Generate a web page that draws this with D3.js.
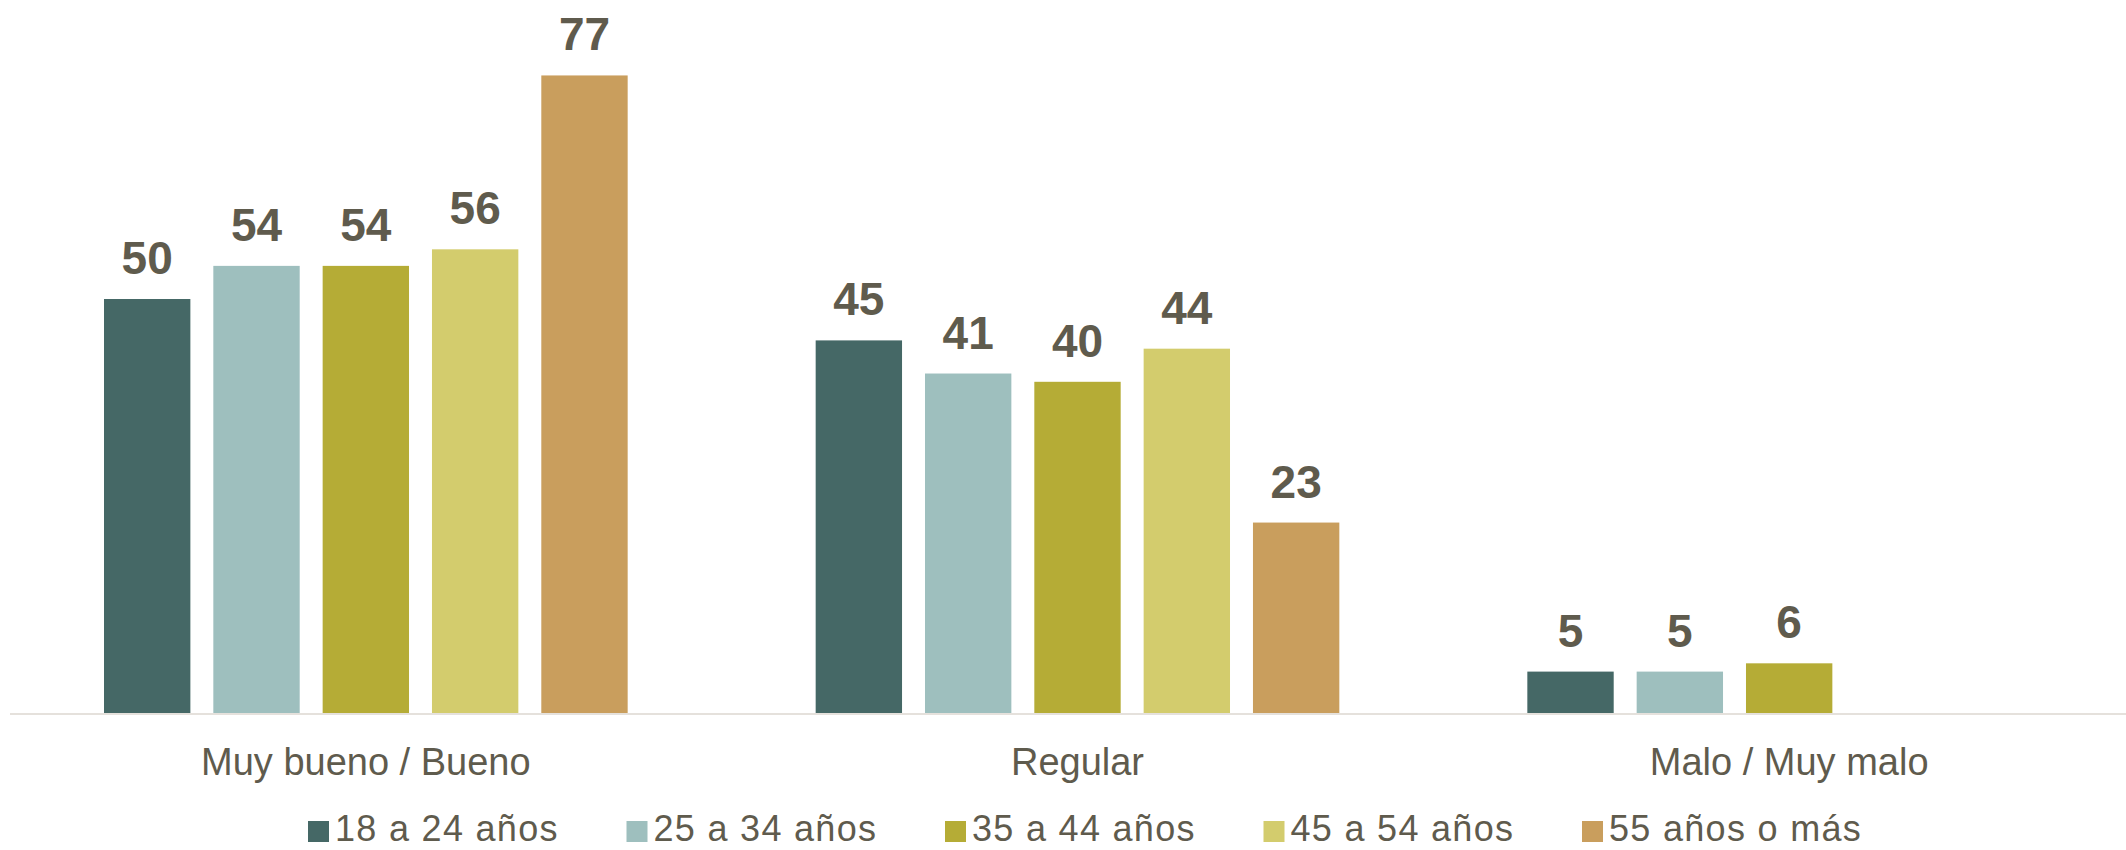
<!DOCTYPE html>
<html>
<head>
<meta charset="utf-8">
<script src="https://cdn.jsdelivr.net/npm/d3@7"></script>
<style>
  html, body { margin: 0; padding: 0; background: #ffffff; }
  svg { display: block; }
  text { font-family: "Liberation Sans", Arial, sans-serif; fill: #5f5b4d; }
</style>
</head>
<body>
<svg id="chart" width="2126" height="850"></svg>
<script>
// Valoración por grupo de edad (%)
const categories = ["Muy bueno / Bueno", "Regular", "Malo / Muy malo"];
const seriesNames = ["18 a 24 años", "25 a 34 años", "35 a 44 años", "45 a 54 años", "55 años o más"];
const age18to24 = [50, 45, 5];
const age25to34 = [54, 41, 5];
const age35to44 = [54, 40, 6];
const age45to54 = [56, 44, null];
const age55plus = [77, 23, null];
const seriesColors = ["#456866", "#9ebfbe", "#b5ac36", "#d3cc6d", "#c99e5d"];

const seriesValues = [age18to24, age25to34, age35to44, age45to54, age55plus];

const svg = d3.select("#chart");
const width = 2126;

const margin = { left: 10, right: -19, top: 50, baseline: 713 };

// Category bands and age-group sub-bands
const x0 = d3.scaleBand()
  .domain(categories)
  .range([margin.left, width - margin.right])
  .paddingInner(0)
  .paddingOuter(0);

const groupOffset = 94;
const x1 = d3.scaleBand()
  .domain(seriesNames)
  .range([groupOffset, x0.bandwidth() - groupOffset])
  .paddingInner(0.21)
  .paddingOuter(0);

const y = d3.scaleLinear()
  .domain([0, 80])
  .range([margin.baseline, margin.baseline - 80 * 8.28]);

const color = d3.scaleOrdinal().domain(seriesNames).range(seriesColors);

// Flatten into bar records, skipping empty values
const bars = [];
categories.forEach((cat, ci) => {
  seriesNames.forEach((s, si) => {
    const v = seriesValues[si][ci];
    if (v !== null && v !== undefined) bars.push({ cat, s, v });
  });
});

const g = svg.append("g");

g.selectAll("rect.bar")
  .data(bars)
  .join("rect")
  .attr("class", "bar")
  .attr("x", d => x0(d.cat) + x1(d.s))
  .attr("y", d => y(d.v))
  .attr("width", x1.bandwidth())
  .attr("height", d => y(0) - y(d.v))
  .attr("fill", d => color(d.s));

// Value labels above each bar
g.selectAll("text.value")
  .data(bars)
  .join("text")
  .attr("class", "value")
  .attr("x", d => x0(d.cat) + x1(d.s) + x1.bandwidth() / 2)
  .attr("y", d => y(d.v) - 25)
  .attr("text-anchor", "middle")
  .style("font-size", "46px")
  .style("font-weight", "bold")
  .text(d => d.v);

// Category axis baseline
svg.append("line")
  .attr("x1", x0.range()[0])
  .attr("x2", x0.range()[1])
  .attr("y1", y(0) + 1)
  .attr("y2", y(0) + 1)
  .attr("stroke", "#e5e1dc")
  .attr("stroke-width", 2);

// Category labels
svg.selectAll("text.cat")
  .data(categories)
  .join("text")
  .attr("class", "cat")
  .attr("x", d => x0(d) + x0.bandwidth() / 2)
  .attr("y", 775)
  .attr("text-anchor", "middle")
  .style("font-size", "38px")
  .text(d => d);

// Legend
const legendX = d3.scalePoint()
  .domain(seriesNames)
  .range([308, 1582]);

const legend = svg.selectAll("g.legend")
  .data(seriesNames)
  .join("g")
  .attr("class", "legend")
  .attr("transform", d => `translate(${legendX(d)},0)`);

legend.append("rect")
  .attr("x", 0)
  .attr("y", 821)
  .attr("width", 21)
  .attr("height", 21)
  .attr("fill", d => color(d));

legend.append("text")
  .attr("x", 27)
  .attr("y", 841)
  .style("font-size", "36px")
  .style("letter-spacing", "1.3px")
  .text(d => d);
</script>
</body>
</html>
